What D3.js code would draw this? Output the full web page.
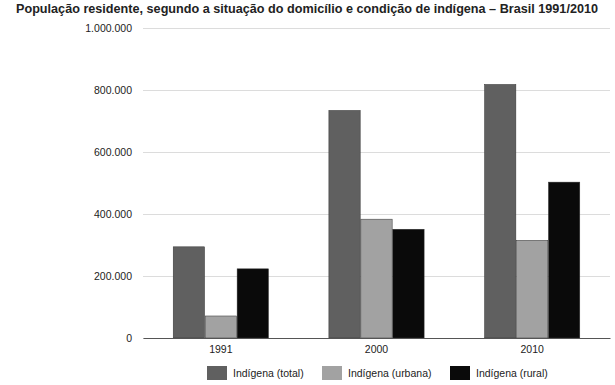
<!DOCTYPE html>
<html>
<head>
<meta charset="utf-8">
<script src="https://cdn.jsdelivr.net/npm/d3@7"></script>
<style>
  body { margin: 0; background: #fff; }
  text { font-family: "Liberation Sans", Arial, sans-serif; }
</style>
</head>
<body>
<svg id="chart" width="615" height="385"></svg>
<script>
// Data
const years = ['1991', '2000', '2010'];
const seriesNames = ['Indígena (total)', 'Indígena (urbana)', 'Indígena (rural)'];
const totalValues = [294131, 734127, 817963];
const urbanValues = [71026, 383298, 315180];
const ruralValues = [223105, 350829, 502783];
const yTicks = [0, 200000, 400000, 600000, 800000, 1000000];
const seriesColors = ['#606060', '#a2a2a2', '#0a0a0a'];

const svg = d3.select('#chart');
const margin = { top: 28, right: 5, bottom: 47, left: 143 };
const width = 615 - margin.left - margin.right;
const height = 385 - margin.top - margin.bottom;

const rows = years.map((y, i) => ({
    year: y,
    values: [totalValues[i], urbanValues[i], ruralValues[i]]
}));

const x0 = d3.scaleBand().domain(years).range([0, width]).paddingInner(0.38).paddingOuter(0.19);
const x1 = d3.scaleBand().domain(d3.range(3)).range([0, x0.bandwidth()]).padding(0.02);
const y = d3.scaleLinear().domain([0, 1000000]).range([height, 0]);

const fmt = d => d3.format(',')(d).replace(/,/g, '.');

svg.append('text')
    .attr('x', 307)
    .attr('y', 13)
    .attr('text-anchor', 'middle')
    .attr('font-size', 12.2)
    .attr('font-weight', 'bold')
    .attr('fill', '#222')
    .attr('textLength', 582)
    .attr('lengthAdjust', 'spacingAndGlyphs')
    .text('População residente, segundo a situação do domicílio e condição de indígena – Brasil 1991/2010');

const g = svg.append('g').attr('transform', `translate(${margin.left},${margin.top})`);

// gridlines + y labels
const yAxis = g.append('g')
    .call(d3.axisLeft(y).tickValues(yTicks).tickSize(-width).tickPadding(11).tickFormat(fmt));
yAxis.select('.domain').remove();
yAxis.selectAll('.tick line').attr('stroke', '#dcdcdc');
yAxis.selectAll('.tick text').attr('font-size', 10.5).attr('fill', '#222');

// bars
const groups = g.selectAll('.grp')
    .data(rows)
    .enter()
    .append('g')
    .attr('transform', d => `translate(${x0(d.year)},0)`);

groups.selectAll('rect')
    .data(d => d.values.map((v, i) => ({ i, v })))
    .enter()
    .append('rect')
    .attr('x', d => x1(d.i))
    .attr('y', d => y(d.v))
    .attr('width', x1.bandwidth())
    .attr('height', d => height - y(d.v))
    .attr('fill', d => seriesColors[d.i])
    .attr('stroke', '#333')
    .attr('stroke-width', 0.5);

// x axis
const xAxis = g.append('g')
    .attr('transform', `translate(0,${height})`)
    .call(d3.axisBottom(x0).tickSize(0).tickPadding(8));
xAxis.select('.domain').attr('stroke', '#555').attr('stroke-width', 1.2);
xAxis.selectAll('.tick text').attr('font-size', 10.5).attr('fill', '#222');

// legend
const legendX = [207, 322, 450];
const legend = svg.selectAll('.leg')
    .data(seriesNames)
    .enter()
    .append('g')
    .attr('transform', (d, i) => `translate(${legendX[i]},366)`);
legend.append('rect')
    .attr('width', 20)
    .attr('height', 14)
    .attr('fill', (d, i) => seriesColors[i]);
legend.append('text')
    .attr('x', 26)
    .attr('y', 11)
    .attr('font-size', 10.5)
    .attr('fill', '#222')
    .text(d => d);
</script>
</body>
</html>
